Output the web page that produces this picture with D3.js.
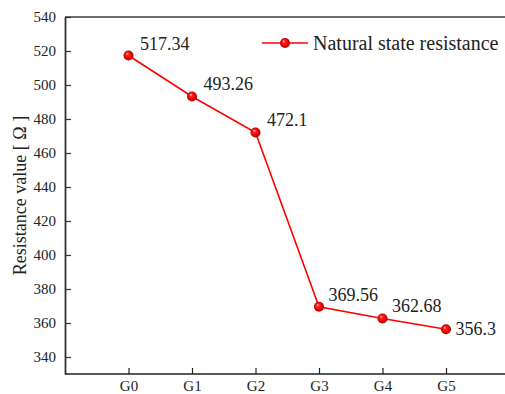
<!DOCTYPE html>
<html><head><meta charset="utf-8">
<script src="https://cdn.jsdelivr.net/npm/d3@7"></script>
<style>body{margin:0;background:#fff;} svg{display:block;font-family:"Liberation Serif","Times New Roman",serif;}</style>
</head><body>
<script>
const categories = ["G0","G1","G2","G3","G4","G5"];
const values = [517.34, 493.26, 472.1, 369.56, 362.68, 356.3];
const labels = ["517.34","493.26","472.1","369.56","362.68","356.3"];
const yTicks = [340,360,380,400,420,440,460,480,500,520,540];
const seriesName = "Natural state resistance";

const W = 505, H = 394;
const svg = d3.select("body").append("svg").attr("width", W).attr("height", H);

const x = d3.scaleLinear().domain([-1, 6]).range([65, 509.5]);
const y = d3.scaleLinear().domain([330, 540]).range([374, 17]);

const defs = svg.append("defs");
const g = defs.append("radialGradient").attr("id","ball").attr("cx","0.5").attr("cy","0.5").attr("r","0.5")
  .attr("fx","0.35").attr("fy","0.3");
g.append("stop").attr("offset","0").attr("stop-color","#ffd0d0");
g.append("stop").attr("offset","0.3").attr("stop-color","#ff2020");
g.append("stop").attr("offset","0.8").attr("stop-color","#e00000");
g.append("stop").attr("offset","1").attr("stop-color","#a00000");

// top frame line
svg.append("line").attr("x1", x(-1)).attr("x2", W).attr("y1", y(540)).attr("y2", y(540))
  .attr("stroke","#404040").attr("stroke-width",1.6);

// Y axis
const yAxis = d3.axisLeft(y).tickValues(yTicks).tickSizeInner(-6).tickSizeOuter(0).tickPadding(9);
const ya = svg.append("g").attr("transform", `translate(${x(-1)},0)`).call(yAxis);
ya.attr("font-family", null);
ya.select(".domain").attr("stroke","#333").attr("stroke-width",1.8);
ya.selectAll(".tick line").attr("stroke","#333").attr("stroke-width",1.2);
ya.selectAll(".tick text").attr("font-size",15).attr("fill","#222").attr("font-family","Liberation Serif");

// X axis
const xAxis = d3.axisBottom(x).tickValues(d3.range(categories.length)).tickFormat(i => categories[i])
  .tickSizeInner(-6).tickSizeOuter(0);
const xa = svg.append("g").attr("transform", `translate(0,${y(330)})`).call(xAxis);
xa.attr("font-family", null);
xa.select(".domain").attr("stroke","#222").attr("stroke-width",1.6).attr("d", `M${x(-1)},0H${W}`);
xa.selectAll(".tick line").attr("stroke","#222").attr("stroke-width",1.2);
xa.selectAll(".tick text").attr("font-size",15).attr("fill","#222").attr("font-family","Liberation Serif")
  .attr("y", 6.5).attr("dy","0.71em");

// Y title
svg.append("text").attr("transform", `translate(26,${(y(540)+y(330))/2}) rotate(-90)`)
  .attr("text-anchor","middle").attr("font-size",18).attr("fill","#222").text("Resistance value [ Ω ]");

// line
const line = d3.line().x((d,i) => x(i)).y(d => y(d));
svg.append("path").datum(values).attr("d", line).attr("fill","none").attr("stroke","#ff0000").attr("stroke-width",1.6);

svg.selectAll("circle.pt").data(values).enter().append("circle").attr("class","pt")
  .attr("cx",(d,i)=>x(i)).attr("cy",d=>y(d)).attr("r",5).attr("fill","url(#ball)");

// labels
svg.selectAll("text.lbl").data(values).enter().append("text").attr("class","lbl")
  .attr("x",(d,i)=>x(i)+(i<3?11.5:9.5))
  .attr("y",(d,i)=> i===5 ? y(d)+6 : y(d)-6)
  .attr("font-size",18).attr("fill","#222").text((d,i)=>labels[i]);

// legend
const lg = svg.append("g").attr("transform","translate(262,43)");
lg.append("line").attr("x1",0).attr("x2",46).attr("y1",0).attr("y2",0).attr("stroke","#ff0000").attr("stroke-width",1.6);
lg.append("circle").attr("cx",23).attr("cy",0).attr("r",5).attr("fill","url(#ball)");
lg.append("text").attr("x",51).attr("y",7).attr("font-size",20).attr("fill","#222").text(seriesName);
</script>
</body></html>
